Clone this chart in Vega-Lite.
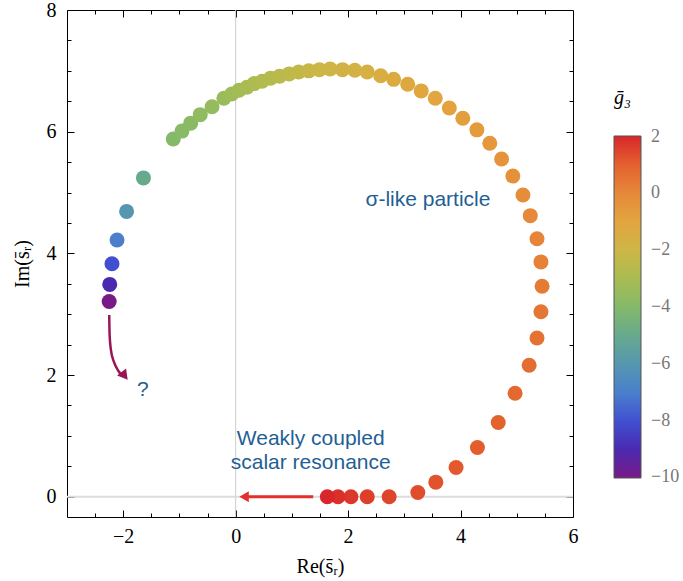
{
  "$schema": "https://vega.github.io/schema/vega-lite/v6.json",
  "width": 506,
  "height": 507,
  "autosize": "none",
  "padding": {"left": 67, "top": 10, "right": 110, "bottom": 64},
  "background": "white",
  "config": {"view": {"stroke": "black", "strokeWidth": 1}},
  "datasets": {
    "points": [
      {"re": -2.25, "im": 3.21, "g": -10},
      {"re": -2.24, "im": 3.49, "g": -9},
      {"re": -2.20, "im": 3.83, "g": -8},
      {"re": -2.11, "im": 4.22, "g": -7},
      {"re": -1.94, "im": 4.69, "g": -6},
      {"re": -1.64, "im": 5.24, "g": -5},
      {"re": -1.11, "im": 5.88, "g": -4},
      {"re": -0.955, "im": 6.01, "g": -3.88},
      {"re": -0.80, "im": 6.14, "g": -3.76},
      {"re": -0.63, "im": 6.28, "g": -3.64},
      {"re": -0.42, "im": 6.41, "g": -3.52},
      {"re": -0.21, "im": 6.55, "g": -3.4},
      {"re": -0.07, "im": 6.62, "g": -3.28},
      {"re": 0.06, "im": 6.68, "g": -3.16},
      {"re": 0.20, "im": 6.73, "g": -3.04},
      {"re": 0.33, "im": 6.79, "g": -2.92},
      {"re": 0.47, "im": 6.83, "g": -2.8},
      {"re": 0.62, "im": 6.88, "g": -2.68},
      {"re": 0.78, "im": 6.91, "g": -2.56},
      {"re": 0.95, "im": 6.95, "g": -2.44},
      {"re": 1.12, "im": 6.98, "g": -2.32},
      {"re": 1.30, "im": 7.00, "g": -2.2},
      {"re": 1.49, "im": 7.02, "g": -2.08},
      {"re": 1.68, "im": 7.03, "g": -1.96},
      {"re": 1.90, "im": 7.02, "g": -1.84},
      {"re": 2.12, "im": 7.01, "g": -1.72},
      {"re": 2.34, "im": 6.98, "g": -1.6},
      {"re": 2.58, "im": 6.92, "g": -1.48},
      {"re": 2.81, "im": 6.86, "g": -1.36},
      {"re": 3.06, "im": 6.78, "g": -1.24},
      {"re": 3.30, "im": 6.67, "g": -1.12},
      {"re": 3.55, "im": 6.55, "g": -1.0},
      {"re": 3.80, "im": 6.39, "g": -0.88},
      {"re": 4.04, "im": 6.22, "g": -0.76},
      {"re": 4.29, "im": 6.03, "g": -0.64},
      {"re": 4.52, "im": 5.81, "g": -0.52},
      {"re": 4.73, "im": 5.55, "g": -0.4},
      {"re": 4.93, "im": 5.27, "g": -0.28},
      {"re": 5.11, "im": 4.96, "g": -0.16},
      {"re": 5.24, "im": 4.62, "g": -0.04},
      {"re": 5.36, "im": 4.24, "g": 0.08},
      {"re": 5.43, "im": 3.86, "g": 0.2},
      {"re": 5.45, "im": 3.46, "g": 0.32},
      {"re": 5.43, "im": 3.04, "g": 0.44},
      {"re": 5.36, "im": 2.61, "g": 0.56},
      {"re": 5.22, "im": 2.16, "g": 0.68},
      {"re": 4.97, "im": 1.70, "g": 0.8},
      {"re": 4.67, "im": 1.22, "g": 0.92},
      {"re": 4.30, "im": 0.81, "g": 1.04},
      {"re": 3.92, "im": 0.48, "g": 1.16},
      {"re": 3.56, "im": 0.24, "g": 1.28},
      {"re": 3.24, "im": 0.07, "g": 1.4},
      {"re": 2.73, "im": 0, "g": 1.52},
      {"re": 2.34, "im": 0, "g": 1.64},
      {"re": 2.05, "im": 0, "g": 1.76},
      {"re": 1.82, "im": 0, "g": 1.88},
      {"re": 1.63, "im": 0, "g": 2.0}
    ],
    "labels": [
      {"re": 3.42, "im": 4.88, "text": "σ-like particle"},
      {"re": 1.335, "im": 0.944, "text": "Weakly coupled"},
      {"re": 1.335, "im": 0.549, "text": "scalar resonance"},
      {"re": -1.65, "im": 1.755, "text": "?"}
    ],
    "redline": [
      {"re": 1.38, "im": 0},
      {"re": 0.2, "im": 0}
    ],
    "redhead": [{"re": 0.15, "im": 0}],
    "purplecurve": [
      {"re": -2.249, "im": 2.988, "o": 1},
      {"re": -2.242, "im": 2.66, "o": 2},
      {"re": -2.219, "im": 2.413, "o": 3},
      {"re": -2.165, "im": 2.215, "o": 4},
      {"re": -2.085, "im": 2.067, "o": 5},
      {"re": -2.02, "im": 1.99, "o": 6}
    ],
    "purplehead": [{"re": -1.975, "im": 1.985}]
  },
  "layer": [
    {
      "data": {"values": [{"v": 0}]},
      "mark": {"type": "rule", "color": "#cccccc", "strokeWidth": 1},
      "encoding": {"x": {"field": "v", "type": "quantitative", "axis": null}}
    },
    {
      "data": {"values": [{"v": 0}]},
      "mark": {"type": "rule", "color": "#dddddd", "strokeWidth": 2},
      "encoding": {"y": {"field": "v", "type": "quantitative", "axis": null}}
    },
    {
      "data": {"name": "points"},
      "mark": {"type": "circle", "size": 225, "opacity": 1},
      "encoding": {
        "x": {
          "field": "re", "type": "quantitative",
          "scale": {"domain": [-3, 6], "nice": false, "zero": false},
          "axis": {
            "orient": "bottom",
            "values": [-2.5, -2, -1.5, -1, -0.5, 0, 0.5, 1, 1.5, 2, 2.5, 3, 3.5, 4, 4.5, 5, 5.5, 6],
            "format": ".0f",
            "labelExpr": "datum.value % 2 === 0 ? datum.label : ''",
            "tickSize": {"condition": {"test": "datum.value % 2 === 0", "value": -7}, "value": -4},
            "tickColor": "black",
            "grid": false, "domain": false,
            "labelFlush": false, "labelOverlap": false,
            "labelFont": "Liberation Serif", "labelFontSize": 20, "labelColor": "black",
            "labelPadding": 16,
            "title": "Re(s̄ᵣ)",
            "titleFont": "Liberation Serif", "titleFontSize": 20, "titleFontWeight": "normal", "titleColor": "black",
            "titlePadding": 7
          }
        },
        "y": {
          "field": "im", "type": "quantitative",
          "scale": {"domain": [-0.333, 8], "nice": false, "zero": false},
          "axis": {
            "orient": "left",
            "values": [0, 0.5, 1, 1.5, 2, 2.5, 3, 3.5, 4, 4.5, 5, 5.5, 6, 6.5, 7, 7.5, 8],
            "format": ".0f",
            "labelExpr": "datum.value % 2 === 0 ? datum.label : ''",
            "tickSize": {"condition": {"test": "datum.value % 2 === 0", "value": -7}, "value": -4},
            "tickColor": "black",
            "grid": false, "domain": false,
            "labelFlush": false, "labelOverlap": false,
            "labelFont": "Liberation Serif", "labelFontSize": 20, "labelColor": "black",
            "labelPadding": 18,
            "title": "Im(s̄ᵣ)",
            "titleFont": "Liberation Serif", "titleFontSize": 20, "titleFontWeight": "normal", "titleColor": "black",
            "titlePadding": 14
          }
        },
        "color": {
          "field": "g", "type": "quantitative",
          "scale": {
            "domain": [-10, -9, -8, -7, -6, -5, -4, -3, -2, -1, 0, 1, 2],
            "range": ["#781b86", "#4a29b0", "#4150d1", "#4a7fcb", "#5697b0", "#67a98d", "#84b96a", "#aabc52", "#cdb646", "#e2a53f", "#e6883a", "#e3602f", "#d9262a"]
          },
          "legend": {
            "orient": "none", "legendX": 547, "legendY": 78,
            "direction": "vertical",
            "gradientLength": 342, "gradientThickness": 27,
            "gradientStrokeColor": "#555555", "gradientStrokeWidth": 1,
            "values": [-9.97, -8, -6, -4, -2, 0, 1.97],
            "labelExpr": "format(round(datum.value), 'd')",
            "labelFont": "Liberation Serif", "labelFontSize": 18, "labelColor": "#777777",
            "labelOffset": 10, "labelBaseline": "middle", "labelOverlap": false,
            "title": "ḡ₃",
            "titleFont": "Liberation Serif", "titleFontSize": 20, "titleFontStyle": "italic",
            "titleFontWeight": "normal", "titleColor": "black", "titlePadding": 28
          }
        }
      }
    },
    {
      "data": {"name": "redline"},
      "mark": {"type": "line", "color": "#e3302a", "strokeWidth": 3},
      "encoding": {
        "x": {"field": "re", "type": "quantitative", "axis": null},
        "y": {"field": "im", "type": "quantitative", "axis": null}
      }
    },
    {
      "data": {"name": "redhead"},
      "mark": {"type": "point", "shape": "triangle-left", "size": 120, "filled": true, "color": "#e3302a", "opacity": 1},
      "encoding": {
        "x": {"field": "re", "type": "quantitative", "axis": null},
        "y": {"field": "im", "type": "quantitative", "axis": null}
      }
    },
    {
      "data": {"name": "purplecurve"},
      "mark": {"type": "line", "color": "#991656", "strokeWidth": 2.5, "interpolate": "monotone"},
      "encoding": {
        "x": {"field": "re", "type": "quantitative", "axis": null},
        "y": {"field": "im", "type": "quantitative", "axis": null},
        "order": {"field": "o"}
      }
    },
    {
      "data": {"name": "purplehead"},
      "mark": {"type": "point", "shape": "triangle-up", "angle": 142, "size": 130, "filled": true, "color": "#991656", "opacity": 1},
      "encoding": {
        "x": {"field": "re", "type": "quantitative", "axis": null},
        "y": {"field": "im", "type": "quantitative", "axis": null}
      }
    },
    {
      "data": {"name": "labels"},
      "mark": {"type": "text", "font": "Liberation Sans", "fontSize": 21, "color": "#1f5f94", "align": "center", "baseline": "middle"},
      "encoding": {
        "x": {
          "field": "re", "type": "quantitative",
          "axis": {
            "orient": "top",
            "values": [-2.5, -2, -1.5, -1, -0.5, 0, 0.5, 1, 1.5, 2, 2.5, 3, 3.5, 4, 4.5, 5, 5.5],
            "labels": false, "title": null, "grid": false, "domain": false,
            "tickSize": {"condition": {"test": "datum.value % 2 === 0", "value": -7}, "value": -4},
            "tickColor": "black"
          }
        },
        "y": {
          "field": "im", "type": "quantitative",
          "axis": {
            "orient": "right",
            "values": [0, 0.5, 1, 1.5, 2, 2.5, 3, 3.5, 4, 4.5, 5, 5.5, 6, 6.5, 7, 7.5],
            "labels": false, "title": null, "grid": false, "domain": false,
            "tickSize": {"condition": {"test": "datum.value % 2 === 0", "value": -7}, "value": -4},
            "tickColor": "black"
          }
        },
        "text": {"field": "text", "type": "nominal"}
      }
    }
  ],
  "resolve": {"axis": {"x": "independent", "y": "independent"}}
}
